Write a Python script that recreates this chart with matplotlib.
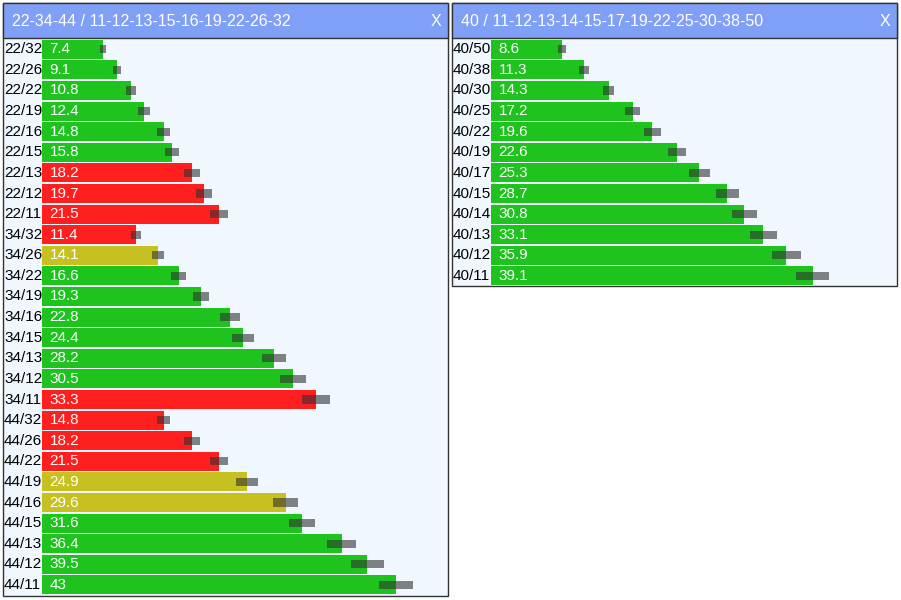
import matplotlib.pyplot as plt
from matplotlib.patches import Rectangle

left_title = "22-34-44 / 11-12-13-15-16-19-22-26-32"
left_labels = ["22/32", "22/26", "22/22", "22/19", "22/16", "22/15", "22/13", "22/12", "22/11",
               "34/32", "34/26", "34/22", "34/19", "34/16", "34/15", "34/13", "34/12", "34/11",
               "44/32", "44/26", "44/22", "44/19", "44/16", "44/15", "44/13", "44/12", "44/11"]
left_values = [7.4, 9.1, 10.8, 12.4, 14.8, 15.8, 18.2, 19.7, 21.5,
               11.4, 14.1, 16.6, 19.3, 22.8, 24.4, 28.2, 30.5, 33.3,
               14.8, 18.2, 21.5, 24.9, 29.6, 31.6, 36.4, 39.5, 43]
left_err = [0.4, 0.5, 0.6, 0.7, 0.8, 0.8, 1.0, 1.0, 1.1,
            0.6, 0.7, 0.9, 1.0, 1.2, 1.3, 1.5, 1.6, 1.7,
            0.8, 1.0, 1.1, 1.3, 1.5, 1.6, 1.8, 2.0, 2.1]
left_status = ["g", "g", "g", "g", "g", "g", "r", "r", "r",
               "r", "y", "g", "g", "g", "g", "g", "g", "r",
               "r", "r", "r", "y", "y", "g", "g", "g", "g"]

right_title = "40 / 11-12-13-14-15-17-19-22-25-30-38-50"
right_labels = ["40/50", "40/38", "40/30", "40/25", "40/22", "40/19", "40/17", "40/15",
                "40/14", "40/13", "40/12", "40/11"]
right_values = [8.6, 11.3, 14.3, 17.2, 19.6, 22.6, 25.3, 28.7, 30.8, 33.1, 35.9, 39.1]
right_err = [0.5, 0.6, 0.7, 0.9, 1.0, 1.1, 1.3, 1.4, 1.5, 1.6, 1.8, 2.0]
right_status = ["g"] * 12

colors = {"g": "#1ec31e", "r": "#ff1f1f", "y": "#c6c120"}
W, H = 901, 600
SCALE = 8.23  # px per unit
ROW = 20.6


def panel(fig, x0, x1, y0, y1, title, labels, values, errs, status):
    # frame + header
    fig.patches.append(Rectangle((x0 / W, 1 - y1 / H), (x1 - x0) / W, (y1 - y0) / H,
                                 transform=fig.transFigure, facecolor="#f0f7ff",
                                 edgecolor="#333333", lw=1, zorder=-2))
    fig.patches.append(Rectangle((x0 / W, 1 - (y0 + 35) / H), (x1 - x0) / W, 35 / H,
                                 transform=fig.transFigure, facecolor="#80a0f7",
                                 edgecolor="#333333", lw=1, zorder=-1))
    fig.text((x0 + 9) / W, 1 - (y0 + 18) / H, title, color="white", fontsize=11.5,
             va="center", family="Liberation Sans")
    fig.text((x1 - 7) / W, 1 - (y0 + 18) / H, "X", color="white", fontsize=11.5,
             va="center", ha="right", family="Liberation Sans")
    n = len(values)
    top = y0 + 36
    ax = fig.add_axes([(x0 + 1) / W, 1 - (top + n * ROW) / H, (x1 - x0 - 2) / W, n * ROW / H])
    ax.patch.set_alpha(0)
    ax.set_xlim(-(39 - 1) / SCALE, (x1 - x0 - 40) / SCALE)
    ax.set_ylim(n, 0)
    ax.axis("off")
    ys = [i + 0.5 for i in range(n)]
    ax.barh(ys, values, height=0.92, color=[colors[s] for s in status])
    for y, v, e, lab in zip(ys, values, errs, labels):
        ax.barh(y, 2 * e, left=v - e, height=0.4, color="#333333", alpha=0.6)
        ax.text(-38 / SCALE, y, lab, va="center", ha="left", fontsize=11,
                family="Liberation Sans", color="black")
        ax.text(0.9, y, f"{v:g}", va="center", ha="left", fontsize=11,
                family="Liberation Sans", color="white")


fig = plt.figure(figsize=(W / 100, H / 100), dpi=100)
fig.patch.set_facecolor("white")
panel(fig, 3, 448, 3, 596, left_title, left_labels, left_values, left_err, left_status)
panel(fig, 452, 897, 3, 286, right_title, right_labels, right_values, right_err, right_status)
fig.savefig("out.png", dpi=100)
